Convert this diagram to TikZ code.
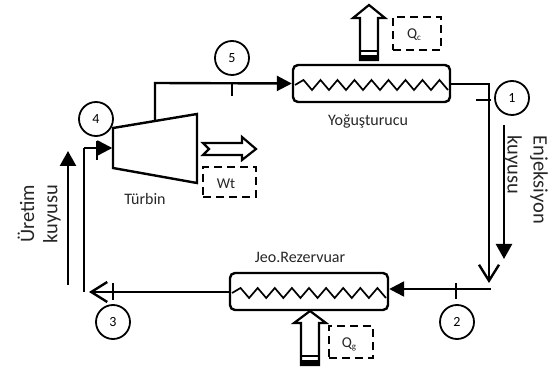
\documentclass[tikz,border=0pt]{standalone}
\usepackage{fontspec}
\setmainfont{Carlito}
\usetikzlibrary{arrows.meta,calc}
\tikzset{
  flow/.style={line width=2.4pt,line join=miter},
  thin tick/.style={line width=1.8pt},
  filltip/.style={-{Triangle[length=15pt,width=15pt,inset=0pt]}},
  opentip/.style={-{Straight Barb[length=16pt,width=20pt,line width=2.4pt]}},
  wellarrow/.style={line width=2.4pt,-{Triangle[length=15pt,width=16pt,inset=0pt]}},
  statecircle/.style={circle,draw,line width=1.8pt,minimum size=34pt,inner sep=0pt,fill=white,font=\fontsize{14}{14}\selectfont},
  exchanger/.style={draw,line width=2.4pt,rounded corners=5pt,fill=white},
  zig/.style={line width=1.7pt,line join=miter},
  dashbox/.style={draw,line width=2.4pt,dash pattern=on 8pt off 5pt,font=\fontsize{15}{15}\selectfont},
  lab/.style={font=\fontsize{16}{16}\selectfont,text=black!85},
  welllab/.style={font=\fontsize{20.5}{20.5}\selectfont,text=black!85,rotate=#1},
  heatarrow/.style={draw,line width=2.2pt,fill=white,line join=miter}
}
\newcommand{\zigzag}[4]{% x0,x1,y,n
  \draw[zig] (#1,#3)
  \foreach \k [evaluate=\k as \xa using {#1+(#2-#1)*(\k-0.5)/#4}, evaluate=\k as \xb using {#1+(#2-#1)*\k/#4}] in {1,...,#4}{
     -- (\xa,#3-5) -- (\xb,#3+5) } ;}
\begin{document}
\begin{tikzpicture}[x=1pt,y=-1pt]
\useasboundingbox (0,0) rectangle (552,371);
% named points
\coordinate (c5) at (155,83);
\coordinate (tout) at (155,121);
\coordinate (cr) at (489,84);
\coordinate (corner) at (489,283);
\coordinate (hr) at (491,289);
\coordinate (p3) at (84,292);
\coordinate (p4) at (84,148);
% turbine
\node[inner sep=0pt] (turbA) at (113,128) {};
\node[inner sep=0pt] (turbB) at (113,148) {};
\draw[line width=2.4pt,line join=miter] (113,128) -- (197,114) -- (197,183) -- (113,168) -- cycle;
% exchangers
\node[exchanger,minimum width=157pt,minimum height=37pt,inner sep=0pt] (cond) at (371.5,83.5) {};
\node[exchanger,minimum width=158pt,minimum height=37pt,inner sep=0pt] (res) at (309,291.5) {};
\zigzag{295}{448}{85}{9}
\zigzag{232}{386}{293}{9}
% connectors
\draw[flow,filltip] (tout) -- (c5) -- (cond.west);
\draw[flow,opentip] (cond.east |- cr) -- (cr) -- (corner);
\draw[flow,filltip] (hr) -- (res.east |- hr);
\draw[flow,opentip] (res.west |- p3) -- (89,292);
\draw[flow] (p3) -- (p4);
\draw[flow,filltip] (p4) -- (turbB);
% ticks
\draw[thin tick] (232,83) -- (232,96);
\draw[thin tick] (476,100) -- (491,100);
\draw[thin tick] (456,283) -- (456,299);
\draw[thin tick] (113,283) -- (113,300);
\draw[thin tick] (97,141) -- (97,160);
% state circles
\node[statecircle] (s1) at (512,98) {1};
\node[statecircle] (s2) at (457,322) {2};
\node[statecircle] (s3) at (113,322) {3};
\node[statecircle] (s4) at (96,119) {4};
\node[statecircle] (s5) at (232,58) {5};
% well arrows
\coordinate (ua) at (68,285); \coordinate (ub) at (68,151);
\coordinate (da) at (504,125); \coordinate (db) at (504,259);
\draw[wellarrow] (ua) -- (ub);
\draw[wellarrow] (da) -- (db);
% heat arrows
\draw[heatarrow] (360,60) -- (360,18) -- (353,18) -- (369,5) -- (385,18) -- (378,18) -- (378,60) -- cycle;
\draw[line width=1.5pt] (360,51) -- (378,51);
\fill (359,55) rectangle (379,61);
\draw[heatarrow] (301,365) -- (301,323) -- (294,323) -- (310,311) -- (326,323) -- (319,323) -- (319,365) -- cycle;
\draw[line width=1.5pt] (301,356) -- (319,356);
\fill (300,360) rectangle (320,366);
\draw[heatarrow] (203,143) -- (209,149) -- (203,155) -- (242,155) -- (242,160) -- (256,149) -- (242,137) -- (242,143) -- cycle;
% dashed boxes
\node[dashbox,minimum width=48pt,minimum height=33pt,inner sep=0pt] (qc) at (417,33.5) {};
\node[dashbox,minimum width=44pt,minimum height=32pt,inner sep=0pt] (qg) at (351,342) {};
\node[dashbox,minimum width=53pt,minimum height=30pt,inner sep=0pt] (wt) at (229.5,182) {};
\node[font=\fontsize{15}{15}\selectfont,text=black!85] (qct) at (414,35) {Q\raisebox{-2pt}{\fontsize{9}{9}\selectfont c}};
\node[font=\fontsize{15}{15}\selectfont,text=black!85] (qgt) at (349,344) {Q\raisebox{-2pt}{\fontsize{9}{9}\selectfont g}};
\node[font=\fontsize{15}{15}\selectfont,text=black!85] (wtt) at (226,184) {Wt};
% labels
\node[lab] (t1) at (145,199) {Türbin};
\node[lab] (t2) at (368,121) {Yoğuşturucu};
\node[lab] (t3) at (300,257) {Jeo.Rezervuar};
\node[welllab=90] (t4) at (26,214) {Üretim};
\node[welllab=90] (t5) at (52,214) {kuyusu};
\node[welllab=-90] (t6) at (539,180) {Enjeksiyon};
\node[welllab=-90] (t7) at (513,165) {kuyusu};
\end{tikzpicture}
\end{document}
